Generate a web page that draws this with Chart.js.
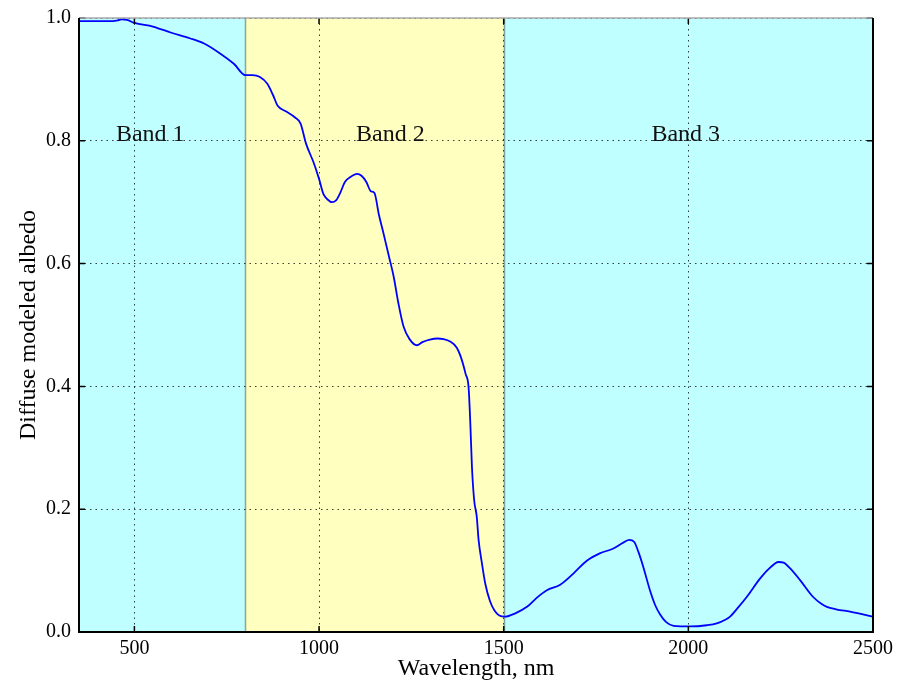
<!DOCTYPE html>
<html>
<head>
<meta charset="utf-8">
<title>Diffuse modeled albedo</title>
<script src="https://cdn.jsdelivr.net/npm/chart.js@4"></script>
<style>
  html, body { margin: 0; padding: 0; background: #fff; }
  #chart-box { width: 905px; height: 684px; }
</style>
</head>
<body>
<div id="chart-box"><canvas id="albedoChart"></canvas></div>
<script>
// Spectrum samples: wavelength (nm) and diffuse albedo
const wavelength = [
  350, 400, 440, 455, 465, 480, 500, 550, 600, 650, 690, 730, 770, 800, 820, 840,
  860, 875, 888, 910, 935, 950, 965, 985, 1000, 1012, 1024, 1035, 1046, 1058, 1070, 1085, 1103,
  1115, 1128, 1140, 1150, 1162, 1175, 1190, 1202, 1215, 1229, 1245, 1265, 1280, 1300, 1320, 1337,
  1355, 1373, 1385, 1397, 1405, 1410, 1414, 1420, 1427, 1432, 1441, 1450, 1463, 1475, 1488, 1504,
  1530, 1563, 1590, 1617, 1653, 1690, 1725, 1760, 1797, 1825, 1840, 1853, 1865, 1878, 1896, 1910,
  1924, 1940, 1960, 2005, 2050, 2077, 2100, 2113, 2135, 2158, 2194, 2220, 2244, 2258, 2275, 2302,
  2338, 2360, 2375, 2400, 2438, 2470, 2500
];
const albedo = [
  0.995, 0.995, 0.995, 0.996, 0.998, 0.997, 0.992, 0.986, 0.976, 0.967, 0.958, 0.943, 0.925, 0.907, 0.907, 0.904,
  0.893, 0.875, 0.857, 0.848, 0.838, 0.828, 0.795, 0.765, 0.738, 0.713, 0.704, 0.700, 0.703, 0.716, 0.733, 0.741, 0.746,
  0.743, 0.733, 0.718, 0.715, 0.680, 0.648, 0.610, 0.579, 0.535, 0.497, 0.477, 0.467, 0.472, 0.476, 0.478, 0.477,
  0.473, 0.463, 0.446, 0.420, 0.398, 0.334, 0.269, 0.215, 0.188, 0.150, 0.112, 0.079, 0.050, 0.035, 0.027, 0.025,
  0.030, 0.041, 0.056, 0.068, 0.077, 0.096, 0.116, 0.128, 0.136, 0.146, 0.150, 0.147, 0.130, 0.106, 0.068, 0.044,
  0.028, 0.016, 0.010, 0.009, 0.011, 0.014, 0.020, 0.025, 0.040, 0.057, 0.087, 0.104, 0.114, 0.113, 0.104, 0.085,
  0.057, 0.046, 0.041, 0.037, 0.033, 0.029, 0.025
];

// Spectral bands
const bandNames = ["Band 1", "Band 2", "Band 3"];
const bandStart = [350, 800, 1500];
const bandEnd = [800, 1500, 2500];
const bandLabelX = [450, 1100, 1900];
const bandLabelY = 0.8;

// Axis ticks
const xTicks = [500, 1000, 1500, 2000, 2500];
const yTicks = [0.0, 0.2, 0.4, 0.6, 0.8, 1.0];

const serif = "'Liberation Serif', 'DejaVu Serif', serif";
const bandColors = ["#bfffff", "#ffffc0", "#bfffff"];
const tickLen = 6;

// Shaded bands behind the grid, labels and frame on top of the curve
const bandShading = {
  id: "bandShading",
  beforeDraw: (chart) => {
    const { ctx, chartArea, scales } = chart;
    ctx.save();
    ctx.fillStyle = "#fff";
    ctx.fillRect(0, 0, chart.width, chart.height);
    bandStart.forEach((start, i) => {
      const x0 = scales.x.getPixelForValue(start);
      const x1 = scales.x.getPixelForValue(bandEnd[i]);
      ctx.fillStyle = bandColors[i];
      ctx.fillRect(x0, chartArea.top, x1 - x0, chartArea.bottom - chartArea.top);
    });
    // band edges
    ctx.strokeStyle = "rgba(60, 70, 70, 0.5)";
    ctx.lineWidth = 1.5;
    bandStart.slice(1).forEach((start) => {
      const x = Math.round(scales.x.getPixelForValue(start)) + 0.5;
      ctx.beginPath();
      ctx.moveTo(x, chartArea.top);
      ctx.lineTo(x, chartArea.bottom);
      ctx.stroke();
    });
    ctx.restore();
  },
  afterDatasetsDraw: (chart) => {
    const { ctx, chartArea, scales } = chart;
    const { left, right, top, bottom } = chartArea;
    ctx.save();
    // band labels
    ctx.fillStyle = "#111";
    ctx.font = "24px " + serif;
    ctx.textAlign = "left";
    ctx.textBaseline = "alphabetic";
    bandNames.forEach((name, i) => {
      ctx.fillText(name, scales.x.getPixelForValue(bandLabelX[i]), scales.y.getPixelForValue(bandLabelY));
    });
    // inward tick marks
    ctx.strokeStyle = "#000";
    ctx.lineWidth = 1.5;
    ctx.beginPath();
    xTicks.forEach((v) => {
      const x = scales.x.getPixelForValue(v);
      ctx.moveTo(x, bottom);
      ctx.lineTo(x, bottom - tickLen);
      ctx.moveTo(x, top);
      ctx.lineTo(x, top + tickLen);
    });
    yTicks.forEach((v) => {
      const y = scales.y.getPixelForValue(v);
      ctx.moveTo(left, y);
      ctx.lineTo(left + tickLen, y);
      ctx.moveTo(right, y);
      ctx.lineTo(right - tickLen, y);
    });
    ctx.stroke();
    // axes frame
    ctx.lineWidth = 1.5;
    ctx.strokeStyle = "#aaa";
    ctx.beginPath();
    ctx.moveTo(left, top);
    ctx.lineTo(right, top);
    ctx.stroke();
    ctx.strokeStyle = "#000";
    ctx.lineWidth = 2;
    ctx.beginPath();
    ctx.moveTo(left, top);
    ctx.lineTo(left, bottom);
    ctx.lineTo(right, bottom);
    ctx.lineTo(right, top);
    ctx.stroke();
    ctx.restore();
  },
};

const ctx = document.getElementById("albedoChart");

const albedoChart = new Chart(ctx, {
  type: "line",
  data: {
    datasets: [
      {
        label: "Albedo",
        data: wavelength.map((w, i) => ({ x: w, y: albedo[i] })),
        borderColor: "#0000ff",
        borderWidth: 1.8,
        pointRadius: 0,
        fill: false,
        cubicInterpolationMode: "monotone",
      },
    ],
  },
  options: {
    responsive: true,
    maintainAspectRatio: false,
    animation: false,
    layout: { padding: { left: 0, right: 32, top: 18, bottom: 0 } },
    plugins: { legend: { display: false }, tooltip: { enabled: false } },
    scales: {
      x: {
        type: "linear",
        min: 350,
        max: 2500,
        afterBuildTicks: (scale) => {
          scale.ticks = xTicks.map((v) => ({ value: v }));
        },
        afterFit: (scale) => {
          scale.height = 52;
          scale.paddingLeft = 0;
          scale.paddingRight = 0;
        },
        ticks: {
          color: "#000",
          padding: 5,
          maxRotation: 0,
          font: { family: serif, size: 20 },
          callback: (v) => String(v),
        },
        grid: { color: "rgba(0, 0, 0, 0.75)", lineWidth: 1, drawTicks: false },
        border: { display: false, dash: [1.5, 4] },
        title: {
          display: true,
          text: "Wavelength, nm",
          color: "#000",
          font: { family: serif, size: 24 },
          padding: { top: 0, bottom: 1 },
        },
      },
      y: {
        type: "linear",
        min: 0,
        max: 1,
        afterBuildTicks: (scale) => {
          scale.ticks = yTicks.map((v) => ({ value: v }));
        },
        afterFit: (scale) => {
          scale.width = 79;
          scale.paddingTop = 0;
          scale.paddingBottom = 0;
        },
        ticks: {
          color: "#000",
          padding: 8,
          font: { family: serif, size: 20 },
          callback: (v) => v.toFixed(1),
        },
        grid: { color: "rgba(0, 0, 0, 0.75)", lineWidth: 1, drawTicks: false },
        border: { display: false, dash: [1.5, 4] },
        title: {
          display: true,
          text: "Diffuse modeled albedo",
          color: "#000",
          font: { family: serif, size: 24 },
          padding: { top: 14, bottom: 0 },
        },
      },
    },
  },
  plugins: [bandShading],
});
</script>
</body>
</html>
